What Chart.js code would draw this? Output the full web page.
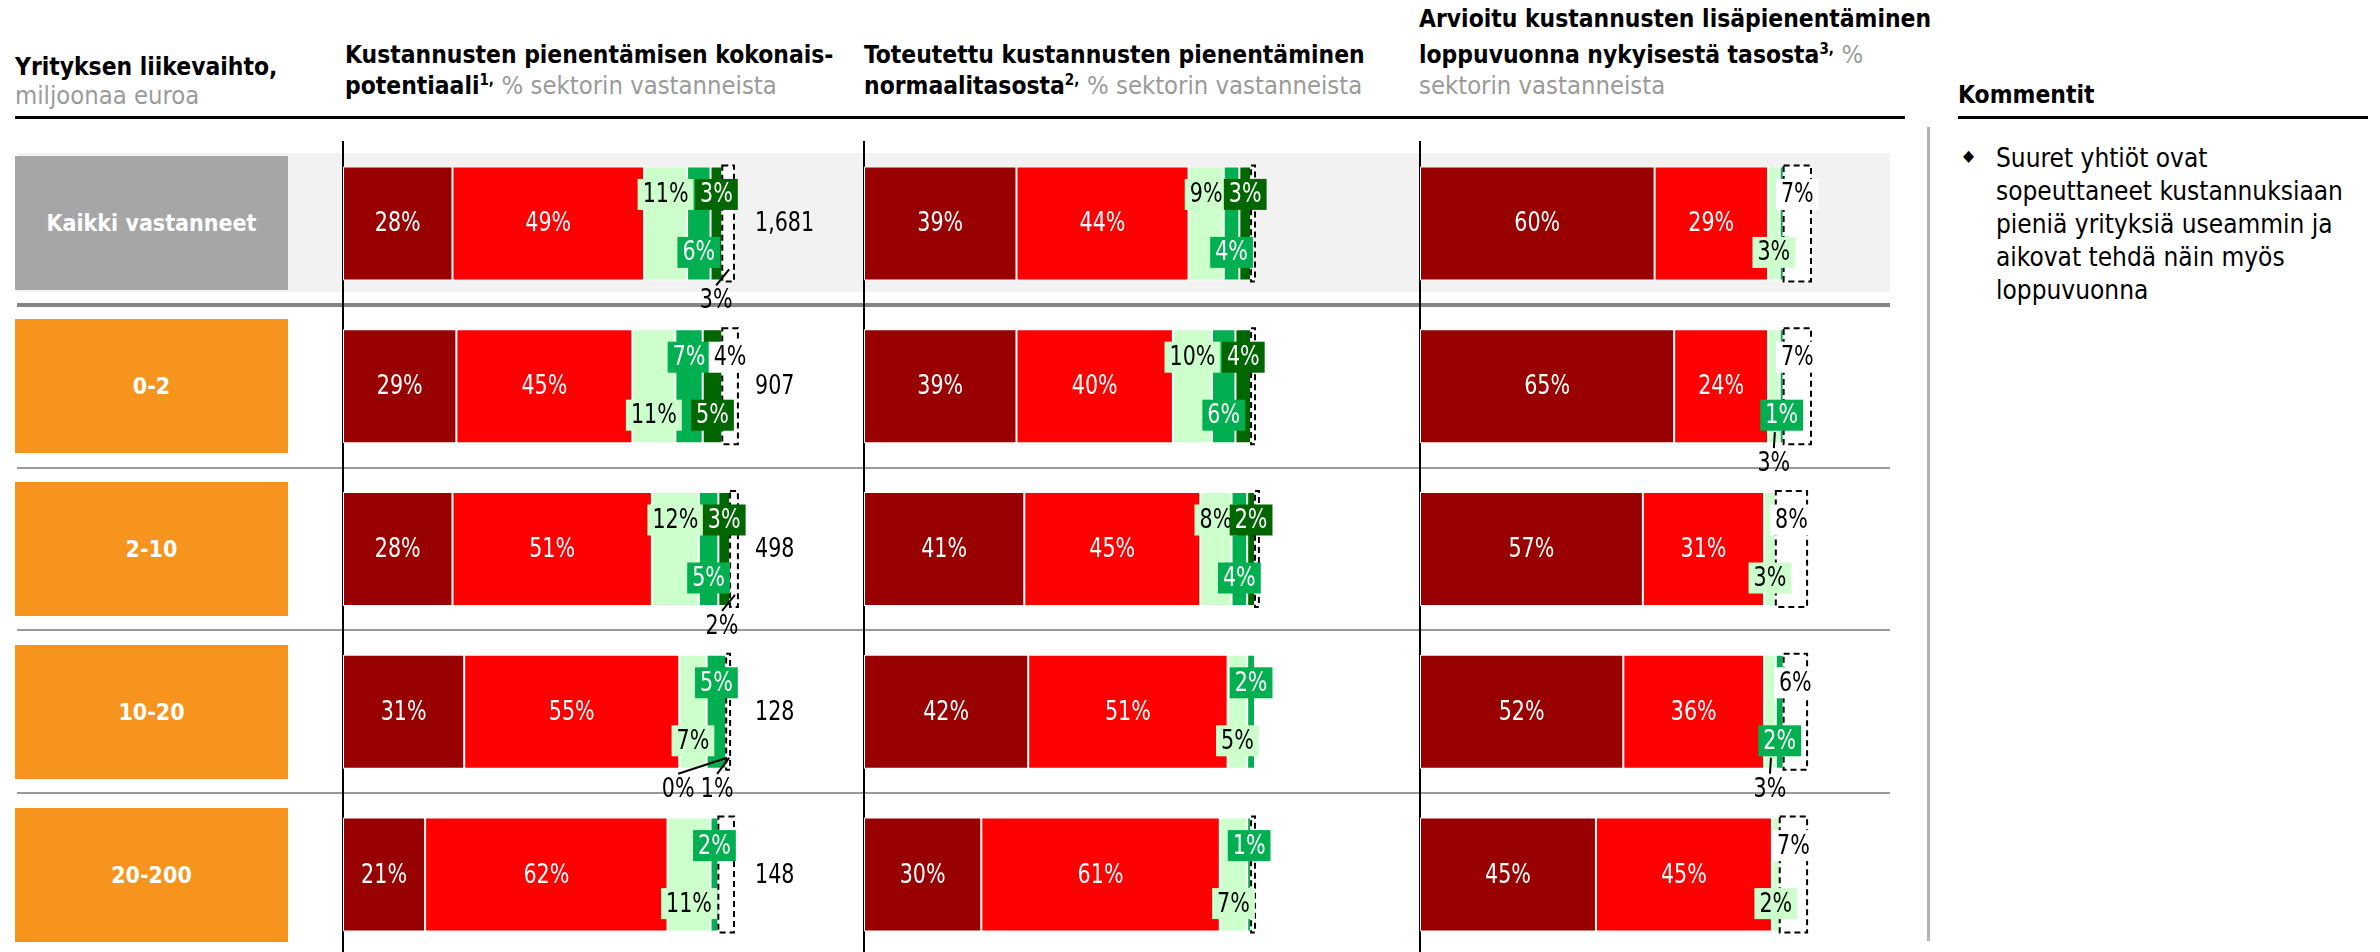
<!DOCTYPE html>
<html>
<head>
<meta charset="utf-8">
<script src="https://cdn.jsdelivr.net/npm/chart.js@4.4.1/dist/chart.umd.min.js"></script>
<style>
html, body { margin: 0; padding: 0; }
body {
  width: 2380px; height: 952px; overflow: hidden; position: relative; background: #fff;
  font-family: 'DejaVu Sans Condensed', 'DejaVu Sans', sans-serif;
}
.head { position: absolute; font-size: 24.4px; line-height: 31px; font-weight: bold; color: #000; white-space: nowrap; }
.head .sub { font-weight: normal; color: #9a9a9a; font-size: 25.4px; }
.head sup { font-size: 15px; line-height: 0; vertical-align: 9px; }
.rule { position: absolute; background: #000; height: 3px; top: 116px; }
.back { position: absolute; z-index: 0; }
.rowbox {
  position: absolute; left: 15px; width: 273px; height: 134px; z-index: 0;
  color: #fff; font-weight: bold; font-size: 23px;
  display: flex; align-items: center; justify-content: center;
}
canvas { position: absolute; top: 130px; z-index: 1; }
#comments { position: absolute; left: 1996px; top: 142px; font-size: 26px; line-height: 33px; color: #000; white-space: nowrap; }
#bullet { position: absolute; left: 1963px; top: 146px; font-size: 16px; }
</style>
</head>
<body>

<div class="head" style="left:15px; top:52px; line-height:29px;">Yrityksen liikevaihto,<br><span class="sub">miljoonaa euroa</span></div>
<div class="head" style="left:345px; top:39px;">Kustannusten pienentämisen kokonais-<br>potentiaali<sup>1,</sup> <span class="sub">% sektorin vastanneista</span></div>
<div class="head" style="left:864px; top:39px;">Toteutettu kustannusten pienentäminen<br>normaalitasosta<sup>2,</sup> <span class="sub">% sektorin vastanneista</span></div>
<div class="head" style="left:1419px; top:3px;">Arvioitu kustannusten lisäpienentäminen</div>
<div class="head" style="left:1419px; top:39px;">loppuvuonna nykyisestä tasosta<sup>3,</sup> <span class="sub">%</span><br><span class="sub">sektorin vastanneista</span></div>
<div class="head" style="left:1958px; top:79px;">Kommentit</div>
<div class="rule" style="left:15px; width:1890px;"></div>
<div class="rule" style="left:1958px; width:410px;"></div>
<div class="back" style="left:1927px; top:127px; width:3px; height:814px; background:#b3b3b3;"></div>

<div id="bullet">◆</div>
<div id="comments">Suuret yhtiöt ovat<br>sopeuttaneet kustannuksiaan<br>pieniä yrityksiä useammin ja<br>aikovat tehdä näin myös<br>loppuvuonna</div>

<canvas id="potential" width="520" height="840" style="left:333px;"></canvas>
<canvas id="realized" width="430" height="840" style="left:854px;"></canvas>
<canvas id="planned" width="470" height="840" style="left:1410px;"></canvas>

<script>
// Yrityksen liikevaihto, milj. euroa
const categories = ['Kaikki vastanneet', '0-2', '2-10', '10-20', '20-200'];
const respondents = [1681, 907, 498, 128, 148];

// Kustannusten pienentämisen kokonaispotentiaali
const potDarkRed   = [28, 29, 28, 31, 21];
const potRed       = [49, 45, 51, 55, 62];
const potLightGrn  = [11, 11, 12, 7, 11];
const potGreen     = [6, 7, 5, 5, 2];
const potDarkGrn   = [3, 5, 3, 0, 0];
const potRest      = [3, 4, 2, 1, 4];

// Toteutettu kustannusten pienentäminen normaalitasosta
const realDarkRed  = [39, 39, 41, 42, 30];
const realRed      = [44, 40, 45, 51, 61];
const realLightGrn = [9, 10, 8, 5, 7];
const realGreen    = [4, 6, 4, 2, 1];
const realDarkGrn  = [3, 4, 2, 0, 0];
const realRest     = [1, 1, 1, 0, 1];

// Arvioitu lisäpienentäminen loppuvuonna
const planDarkRed  = [60, 65, 57, 52, 45];
const planRed      = [29, 24, 31, 36, 45];
const planLightGrn = [3, 3, 3, 3, 2];
const planGreen    = [1, 1, 0, 2, 0];
const planDarkGrn  = [0, 0, 0, 0, 0];
const planRest     = [7, 7, 8, 6, 7];

const segColors  = ['#990000', '#ff0000', '#ccffcc', '#00b050', '#006600', '#ffffff'];
const textColors = ['#ffffff', '#ffffff', '#000000', '#ffffff', '#ffffff', '#000000'];
const labelFont = '27px "DejaVu Sans Condensed", "DejaVu Sans", sans-serif';
const squeeze = 0.85;   // narrows the label glyphs a little

// where each value label goes: c = centre, t = above, b = below centre,
// u = under the bar with a leader line (optional x shift after the colon)
const potPlaces = [
  ['c', 'c', 't', 'b', 't', 'u:-12'],
  ['c', 'c', 'b', 't', 'b', 't'],
  ['c', 'c', 't', 'b', 't', 'u:-12'],
  ['c', 'c', 'b', 't', 'u:-48', 'u:-11'],
  ['c', 'c', 'b', 't', '-', '-']
];
const realPlaces = [
  ['c', 'c', 't', 'b', 't', '-'],
  ['c', 'c', 't', 'b', 't', '-'],
  ['c', 'c', 't', 'b', 't', '-'],
  ['c', 'c', 'b', 't', '-', '-'],
  ['c', 'c', 'b', 't', '-', '-']
];
const planPlaces = [
  ['c', 'c', 'b', '-', '-', 't'],
  ['c', 'c', 'u', 'b', '-', 't'],
  ['c', 'c', 'b', '-', '-', 't'],
  ['c', 'c', 'u', 'b', '-', 't'],
  ['c', 'c', 'b', '-', '-', 't']
];

function squeezedText(ctx, text, x, y) {
  ctx.save();
  ctx.translate(x, y);
  ctx.scale(squeeze, 1);
  ctx.fillText(text, 0, 0);
  ctx.restore();
}

const segmentLabels = {
  id: 'segmentLabels',
  afterDatasetsDraw(chart, args, opts) {
    const ctx = chart.ctx;
    const sets = chart.data.datasets;

    // dashed outline round the last part of each bar
    ctx.save();
    ctx.setLineDash([6, 4]);
    ctx.lineWidth = 2;
    ctx.strokeStyle = '#000';
    chart.getDatasetMeta(5).data.forEach((bar, i) => {
      if (!sets[5].data[i]) return;
      const p = bar.getProps(['x', 'y', 'base', 'height'], true);
      ctx.strokeRect(p.base, p.y - p.height / 2 - 1, p.x - p.base, p.height + 2);
    });
    ctx.restore();

    ctx.save();
    ctx.font = labelFont;
    ctx.textAlign = 'center';
    ctx.textBaseline = 'middle';
    sets.forEach((ds, d) => {
      chart.getDatasetMeta(d).data.forEach((bar, i) => {
        const spec = opts.places[i][d];
        if (!spec || spec === '-') return;
        const parts = spec.split(':');
        const pos = parts[0];
        const dx = Number(parts[1] || 0);
        const p = bar.getProps(['x', 'y', 'base', 'height'], true);
        const cx = (p.x + p.base) / 2;
        const bottom = p.y + p.height / 2;
        const text = ds.data[i] + '%';

        if (pos === 'c') {
          ctx.fillStyle = '#fff';
          squeezedText(ctx, text, cx, p.y + 1);
          return;
        }
        if (pos === 'u') {
          const lx = cx + dx;
          ctx.strokeStyle = '#000';
          ctx.lineWidth = 2;
          ctx.beginPath();
          ctx.moveTo(cx + 1, bottom - 11);
          ctx.lineTo(lx, bottom + 5);
          ctx.stroke();
          ctx.fillStyle = '#000';
          squeezedText(ctx, text, lx, bottom + 21);
          return;
        }
        const ly = pos === 't' ? p.y - 29 : p.y + 29;
        const w = ctx.measureText(text).width * squeeze + 10;
        ctx.fillStyle = segColors[d];
        ctx.fillRect(cx - w / 2, ly - 15.5, w, 31);
        ctx.fillStyle = textColors[d];
        squeezedText(ctx, text, cx, ly + 1);
      });
    });
    ctx.restore();
  }
};

// respondent counts to the right of the first block
const countLabels = {
  id: 'countLabels',
  afterDatasetsDraw(chart) {
    const ctx = chart.ctx;
    const y = chart.scales.y;
    ctx.save();
    ctx.font = labelFont;
    ctx.fillStyle = '#000';
    ctx.textAlign = 'left';
    ctx.textBaseline = 'middle';
    respondents.forEach((n, i) => {
      squeezedText(ctx, n.toLocaleString('en-US'), chart.chartArea.right + 21, y.getPixelForValue(i) + 1);
    });
    ctx.restore();
  }
};

function makeChart(id, series, places, padRight, extra) {
  const datasets = series.map((data, d) => ({
    data: data,
    backgroundColor: segColors[d],
    borderColor: '#ffffff',
    borderWidth: d === 5 ? 0 : 1,
    borderSkipped: false,
    categoryPercentage: 0.7,
    barPercentage: 1.0,
    clip: false,
    stack: 'all'
  }));
  return new Chart(document.getElementById(id), {
    type: 'bar',
    data: { labels: categories, datasets: datasets },
    options: {
      indexAxis: 'y',
      responsive: false,
      animation: false,
      layout: { padding: { left: 10, right: padRight, top: 12, bottom: 14 } },
      scales: {
        x: { type: 'linear', min: 0, max: 100, stacked: true, display: false },
        y: {
          stacked: true,
          ticks: { display: false },
          grid: { display: false, drawTicks: false },
          border: { display: true, color: '#000', width: 2 }
        }
      },
      plugins: {
        legend: { display: false },
        tooltip: { enabled: false },
        segmentLabels: { places: places }
      }
    },
    plugins: [segmentLabels].concat(extra || [])
  });
}

const potChart = makeChart('potential',
  [potDarkRed, potRed, potLightGrn, potGreen, potDarkGrn, potRest], potPlaces, 119, [countLabels]);
makeChart('realized',
  [realDarkRed, realRed, realLightGrn, realGreen, realDarkGrn, realRest], realPlaces, 29);
makeChart('planned',
  [planDarkRed, planRed, planLightGrn, planGreen, planDarkGrn, planRest], planPlaces, 69);

// row backgrounds, separators and the size-class boxes follow the bar rows
const canvasTop = 130;
const rowY = categories.map((c, i) => potChart.scales.y.getPixelForValue(i) + canvasTop);

function addDiv(cls, style, text) {
  const el = document.createElement('div');
  el.className = cls;
  Object.assign(el.style, style);
  if (text) el.textContent = text;
  document.body.appendChild(el);
  return el;
}

addDiv('back', { left: '17px', width: '1873px', top: (rowY[0] - 70) + 'px', height: '139px', background: '#f2f2f2' });
for (let i = 0; i < rowY.length - 1; i++) {
  const mid = (rowY[i] + rowY[i + 1]) / 2;
  const thick = i === 0;
  addDiv('back', {
    left: '17px', width: '1873px',
    top: (mid - (thick ? 2 : 1)) + 'px', height: (thick ? 4 : 2) + 'px',
    background: thick ? '#858585' : '#9a9a9a'
  });
}
categories.forEach((c, i) => {
  addDiv('rowbox', { top: (rowY[i] - 67) + 'px', background: i === 0 ? '#a6a6a6' : '#f7941d' }, c);
});
</script>
</body>
</html>
